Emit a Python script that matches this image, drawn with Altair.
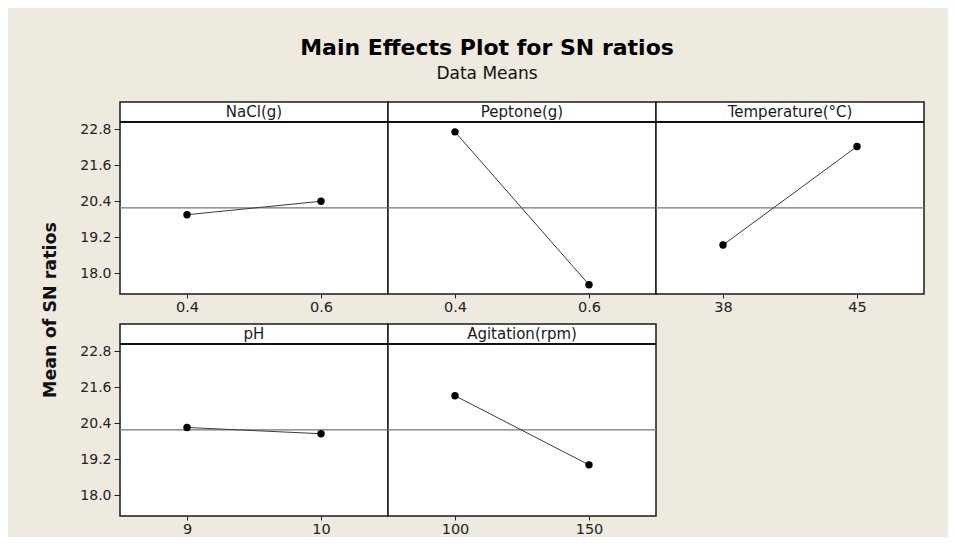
import altair as alt
import pandas as pd

# ---- data ----
FACTORS = ["NaCl(g)", "Peptone(g)", "Temperature(°C)", "pH", "Agitation(rpm)"]
LEVELS = [["0.4", "0.6"], ["0.4", "0.6"], ["38", "45"], ["9", "10"], ["100", "150"]]
SN_MEANS = [[19.95, 20.40], [22.72, 17.61], [18.94, 22.23], [20.26, 20.05], [21.32, 19.01]]
MEAN_SN = 20.18
Y_TICKS = [18.0, 19.2, 20.4, 21.6, 22.8]
Y_DOMAIN = [17.3, 23.05]
Y_TITLE = ["Mean of SN ratios"]

FONT = "DejaVu Sans"
BG = "#eeeae0"
PW, PH, STRIP = 268, 192, 20
ROW_GAP = 8


def panel(i, left_axis):
    df = pd.DataFrame({"level": LEVELS[i], "sn": SN_MEANS[i]})
    yscale = alt.Scale(domain=Y_DOMAIN, range=[PH, STRIP], nice=False, zero=False)
    if left_axis:
        yaxis = alt.Axis(values=Y_TICKS, format=".1f", grid=False, domain=False,
                         tickSize=6, tickColor="#222", labelFont=FONT, labelFontSize=14,
                         labelColor="#222", labelPadding=3, title=None)
    else:
        yaxis = None
    xenc = alt.X("level:O", sort=LEVELS[i],
                 scale=alt.Scale(type="point", padding=0.5),
                 axis=alt.Axis(title=None, labelAngle=0, grid=False, domain=False,
                               tickSize=4, tickColor="#222", labelFont=FONT,
                               labelFontSize=14.5, labelColor="#222", labelPadding=2))
    base = alt.Chart(df)
    mean_rule = base.mark_rule(color="#8a8a8a", strokeWidth=1).encode(
        y=alt.datum(MEAN_SN, scale=yscale, axis=yaxis)
    )
    line = base.mark_line(color="#3a3a3a", strokeWidth=1).encode(
        x=xenc, y=alt.Y("sn:Q", scale=yscale, axis=yaxis)
    )
    pts = base.mark_point(filled=True, color="black", opacity=1, size=55).encode(
        x=xenc, y=alt.Y("sn:Q", scale=yscale, axis=yaxis)
    )
    strip_df = pd.DataFrame({"factor": [FACTORS[i]]})
    strip_text = alt.Chart(strip_df).mark_text(
        font=FONT, fontSize=15, color="#1a1a1a", baseline="middle", align="center"
    ).encode(text="factor:N", x=alt.value(PW / 2), y=alt.value(STRIP / 2))
    strip_rule = alt.Chart(strip_df).mark_rule(color="#111", strokeWidth=2).encode(
        x=alt.value(0), x2=alt.value(PW), y=alt.value(STRIP)
    )
    return alt.layer(mean_rule, line, pts, strip_rule, strip_text).properties(
        width=PW, height=PH
    )


top = alt.hconcat(panel(0, True), panel(1, False), panel(2, False),
                  spacing=0, bounds="flush")
bottom = alt.hconcat(panel(3, True), panel(4, False), spacing=0, bounds="flush")
grid = alt.vconcat(top, bottom, spacing=ROW_GAP)

ytitle = alt.Chart(pd.DataFrame({"t": Y_TITLE})).mark_text(
    angle=270, font=FONT, fontSize=17.5, fontWeight="bold", color="#111",
    baseline="middle", align="center"
).encode(text="t:N", x=alt.value(10), y=alt.value(208)).properties(
    width=20, height=414,
    view=alt.ViewBackground(stroke="transparent", fill="transparent"),
)

chart = alt.hconcat(ytitle, grid, spacing=17).properties(
    title=alt.TitleParams(
        text="Main Effects Plot for SN ratios", subtitle="Data Means",
        font=FONT, fontSize=22, fontWeight="bold", color="#000",
        subtitleFont=FONT, subtitleFontSize=17, subtitleColor="#111",
        anchor="middle", offset=18, subtitlePadding=6, dx=4,
    ),
    padding={"left": 32, "top": 29, "right": 22, "bottom": 0},
    background=BG,
).configure_view(
    stroke="#1a1a1a", strokeWidth=1.5, fill="white"
)

chart.save("out.html", embed_options={"renderer": "svg", "actions": False})
